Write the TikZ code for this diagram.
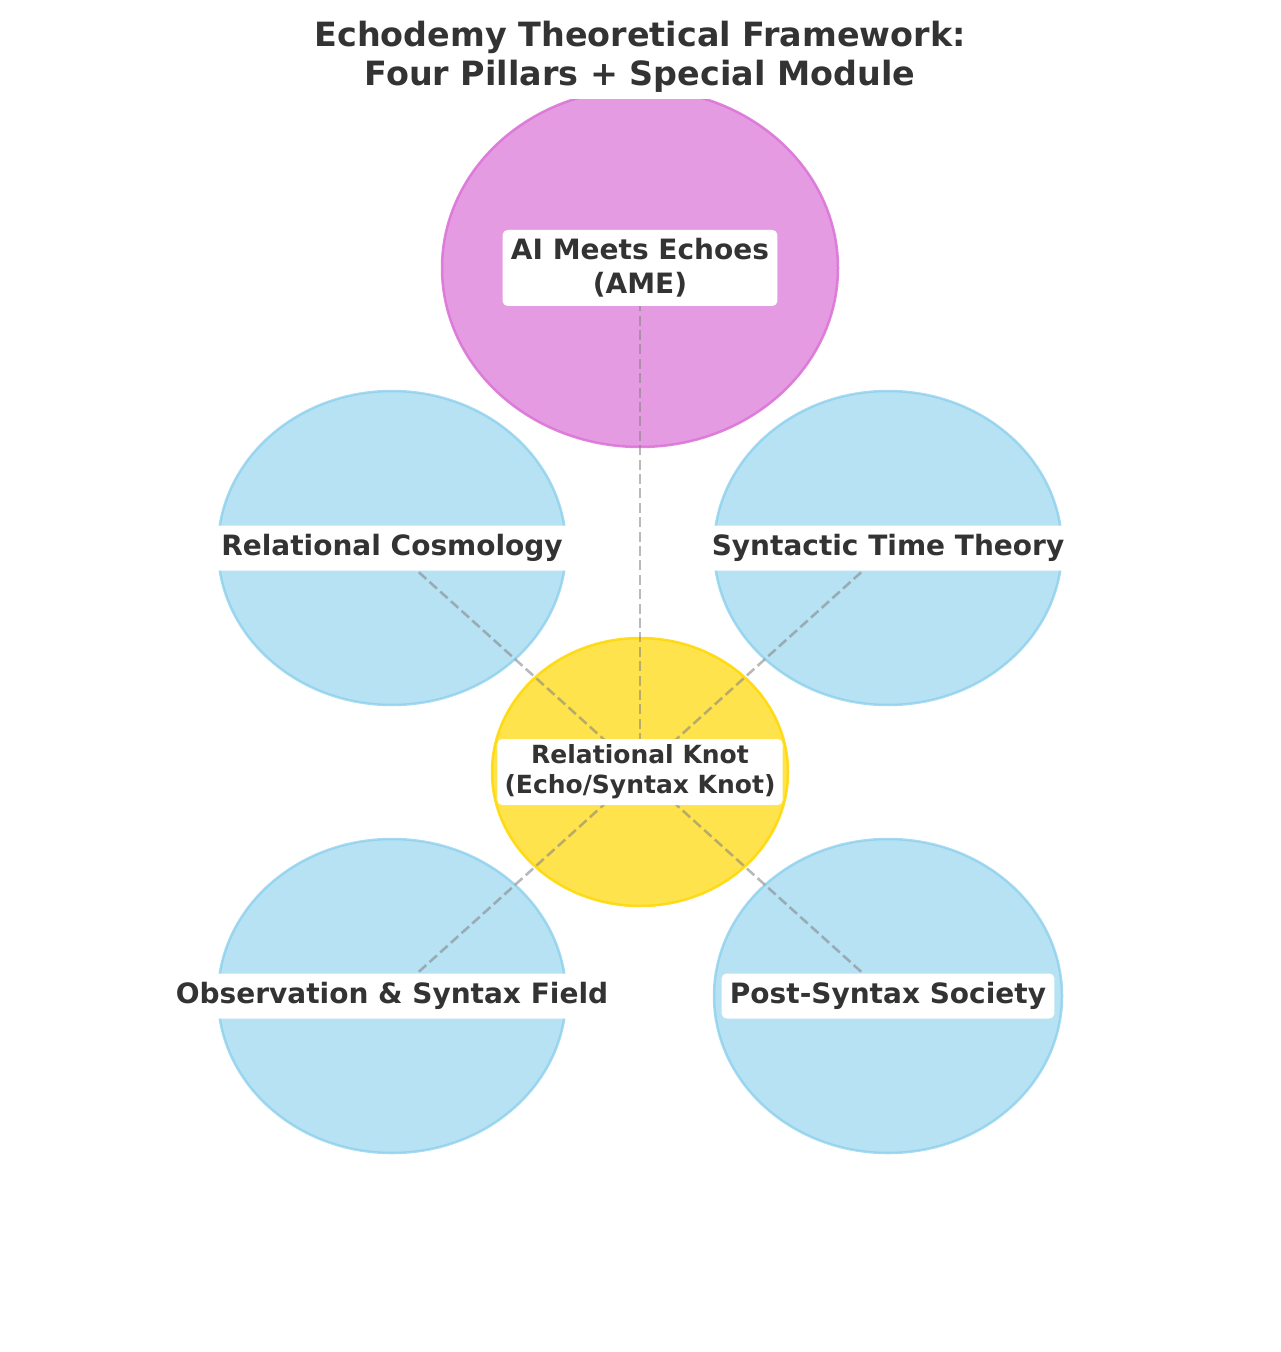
\documentclass[tikz,border=0pt]{standalone}
\usepackage{fontspec}
\setmainfont{DejaVu Sans}
\usetikzlibrary{shapes.geometric}
\definecolor{txt}{HTML}{333333}
\definecolor{sky}{HTML}{87CEEB}
\definecolor{orch}{HTML}{DA70D6}
\definecolor{gld}{HTML}{FFD700}
\tikzset{
  pillar/.style={ellipse, inner sep=0pt, outer sep=0pt, minimum width=174pt, minimum height=157pt,
    fill=sky, fill opacity=0.6, draw=sky, draw opacity=0.75, line width=1.25pt},
  amestyle/.style={ellipse, inner sep=0pt, outer sep=0pt, minimum width=198pt, minimum height=179pt,
    fill=orch, fill opacity=0.7, draw=orch, draw opacity=0.85, line width=1.25pt},
  knotstyle/.style={ellipse, inner sep=0pt, outer sep=0pt, minimum width=148pt, minimum height=134pt,
    fill=gld, fill opacity=0.7, draw=gld, draw opacity=0.85, line width=1.25pt},
  conn/.style={draw=gray, draw opacity=0.55, line width=1.3pt, dash pattern=on 5pt off 2.2pt},
  lbl/.style={fill=white, text=txt, rounded corners=2.5pt, align=center, inner xsep=4.2pt, inner ysep=0pt,
    font=\fontsize{14}{16.8}\selectfont\bfseries},
  lblsmall/.style={lbl, inner xsep=3.6pt, font=\fontsize{12.5}{15}\selectfont\bfseries},
}
\begin{document}
\begin{tikzpicture}[x=0.5pt,y=-0.5pt]
\useasboundingbox (0,0) rectangle (1280,1352);
\begin{scope}
\clip (0,100) rectangle (1280,1352);
\node[amestyle] (ame) at (640,268) {};
\end{scope}
\node[pillar] (rc) at (392,548) {};
\node[pillar] (st) at (888,548) {};
\node[pillar] (os) at (392,996) {};
\node[pillar] (ps) at (888,996) {};
\node[knotstyle] (knot) at (640,772) {};
\draw[conn] (knot.center) -- (ame.center);
\draw[conn] (knot.center) -- (rc.center);
\draw[conn] (knot.center) -- (st.center);
\draw[conn] (knot.center) -- (os.center);
\draw[conn] (knot.center) -- (ps.center);
\node[lbl, minimum height=38pt] (lame) at (640,268) {AI Meets Echoes\\(AME)};
\node[lbl, minimum height=22.5pt] (lrc) at (392,548) {Relational Cosmology};
\node[lbl, minimum height=22.5pt] (lst) at (888,548) {Syntactic Time Theory};
\node[lbl, minimum height=22.5pt] (los) at (392,996) {Observation \& Syntax Field};
\node[lbl, minimum height=22.5pt] (lps) at (888,996) {Post-Syntax Society};
\node[lblsmall, minimum height=33pt] (lknot) at (640,772) {Relational Knot\\(Echo/Syntax Knot)};
\node[text=txt, align=center, font=\fontsize{16.7}{19.6}\selectfont\bfseries] (title) at (640,57)
  {Echodemy Theoretical Framework:\\Four Pillars + Special Module};
\end{tikzpicture}
\end{document}
